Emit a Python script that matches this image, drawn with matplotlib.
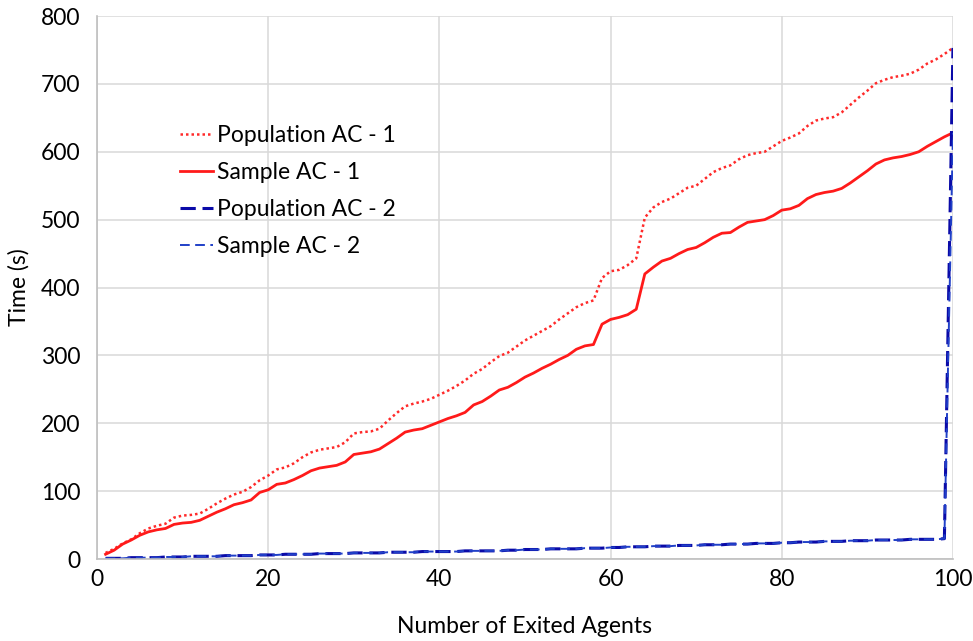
import numpy as np
import matplotlib
matplotlib.use("Agg")
import matplotlib.pyplot as plt

plt.rcParams['font.family'] = ['Lato', 'DejaVu Sans']

# number of exited agents
agents = list(range(1, 101))

pop_ac1 = [9, 15, 23, 29, 38, 45, 49, 52, 61, 64,
           65, 67, 74, 82, 89, 95, 99, 106, 116, 123,
           132, 135, 141, 150, 157, 161, 163, 165, 172, 185,
           187, 188, 192, 204, 215, 225, 229, 232, 236, 242,
           248, 255, 263, 273, 280, 290, 299, 304, 313, 322,
           329, 336, 343, 353, 362, 371, 377, 381, 414, 424,
           426, 433, 443, 503, 518, 526, 531, 539, 547, 550,
           560, 570, 576, 580, 589, 595, 598, 600, 608, 616,
           621, 627, 638, 646, 649, 651, 658, 669, 680, 690,
           701, 706, 710, 712, 715, 721, 730, 736, 744, 753]

smp_ac1 = [7, 13, 22, 28, 35, 40, 43, 45, 51, 53,
           54, 57, 63, 69, 74, 80, 83, 87, 98, 102,
           110, 112, 117, 123, 130, 134, 136, 138, 143, 154,
           156, 158, 162, 170, 178, 187, 190, 192, 197, 202,
           207, 211, 216, 227, 232, 240, 249, 253, 260, 268,
           274, 281, 287, 294, 300, 309, 314, 316, 346, 353,
           356, 360, 368, 420, 430, 439, 443, 450, 456, 459,
           466, 474, 480, 481, 489, 496, 498, 500, 506, 514,
           516, 521, 531, 537, 540, 542, 546, 554, 563, 572,
           582, 588, 591, 593, 596, 600, 608, 615, 622, 628]

pop_ac2 = [1, 1, 1, 2, 2, 2, 2, 3, 3, 3,
           4, 4, 4, 4, 5, 5, 5, 5, 6, 6,
           6, 7, 7, 7, 7, 8, 8, 8, 8, 9,
           9, 9, 9, 10, 10, 10, 10, 11, 11, 11,
           11, 11, 12, 12, 12, 12, 12, 13, 13, 14,
           14, 14, 15, 15, 15, 15, 16, 16, 16, 17,
           17, 18, 18, 18, 19, 19, 19, 20, 20, 20,
           21, 21, 21, 22, 22, 22, 23, 23, 23, 24,
           24, 25, 25, 25, 26, 26, 26, 27, 27, 27,
           28, 28, 28, 28, 29, 29, 29, 29, 30, 753]

smp_ac2 = [1, 1, 1, 2, 2, 2, 2, 3, 3, 3,
           4, 4, 4, 4, 5, 5, 5, 5, 6, 6,
           6, 7, 7, 7, 7, 8, 8, 8, 8, 9,
           9, 9, 9, 10, 10, 10, 10, 11, 11, 11,
           11, 11, 12, 12, 12, 12, 12, 13, 13, 14,
           14, 14, 15, 15, 15, 15, 16, 16, 16, 17,
           17, 18, 18, 18, 19, 19, 19, 20, 20, 20,
           21, 21, 21, 22, 22, 22, 23, 23, 23, 24,
           24, 25, 25, 25, 26, 26, 26, 27, 27, 27,
           28, 28, 28, 28, 29, 29, 29, 29, 30, 628]

x_ticks = [0, 20, 40, 60, 80, 100]
y_ticks = [0, 100, 200, 300, 400, 500, 600, 700, 800]

fig = plt.figure(figsize=(9.73, 6.41), dpi=100)
ax = fig.add_axes([0.0997, 0.1279, 0.8797, 0.8471])

ax.plot(agents, pop_ac1, color='#FF2A2A', linestyle=(0, (1, 1.2)), linewidth=1.8,
        label='Population AC - 1')
ax.plot(agents, smp_ac1, color='#FF1A1A', linestyle='-', linewidth=2.0,
        label='Sample AC - 1')
ax.plot(agents, pop_ac2, color='#0A0AA8', linestyle=(0, (5, 2.2)), linewidth=2.2,
        label='Population AC - 2')
ax.plot(agents, smp_ac2, color='#2040C8', linestyle=(0, (5, 2.8)), linewidth=1.4,
        label='Sample AC - 2')

ax.set_xlim(0, 100)
ax.set_ylim(0, 800)
ax.set_xticks(x_ticks)
ax.set_yticks(y_ticks)
ax.tick_params(axis='both', length=0, labelsize=16.5, pad=7)
ax.tick_params(axis='y', pad=12)
ax.grid(True, color='#D9D9D9', linewidth=1.1)
ax.set_axisbelow(True)

for side in ['top', 'right']:
    ax.spines[side].set_visible(False)
for side in ['left', 'bottom']:
    ax.spines[side].set_color('#BFBFBF')
    ax.spines[side].set_linewidth(1.2)

ax.set_xlabel('Number of Exited Agents', fontsize=16.5, labelpad=19)
ax.set_ylabel('Time (s)', fontsize=16.5, labelpad=8)

leg = ax.legend(loc='upper left', bbox_to_anchor=(0.097, 0.80), frameon=False,
                fontsize=16.5, handlelength=1.45, handletextpad=0.15,
                labelspacing=0.7, borderpad=0, borderaxespad=0)

fig.savefig('out.png', dpi=100)
